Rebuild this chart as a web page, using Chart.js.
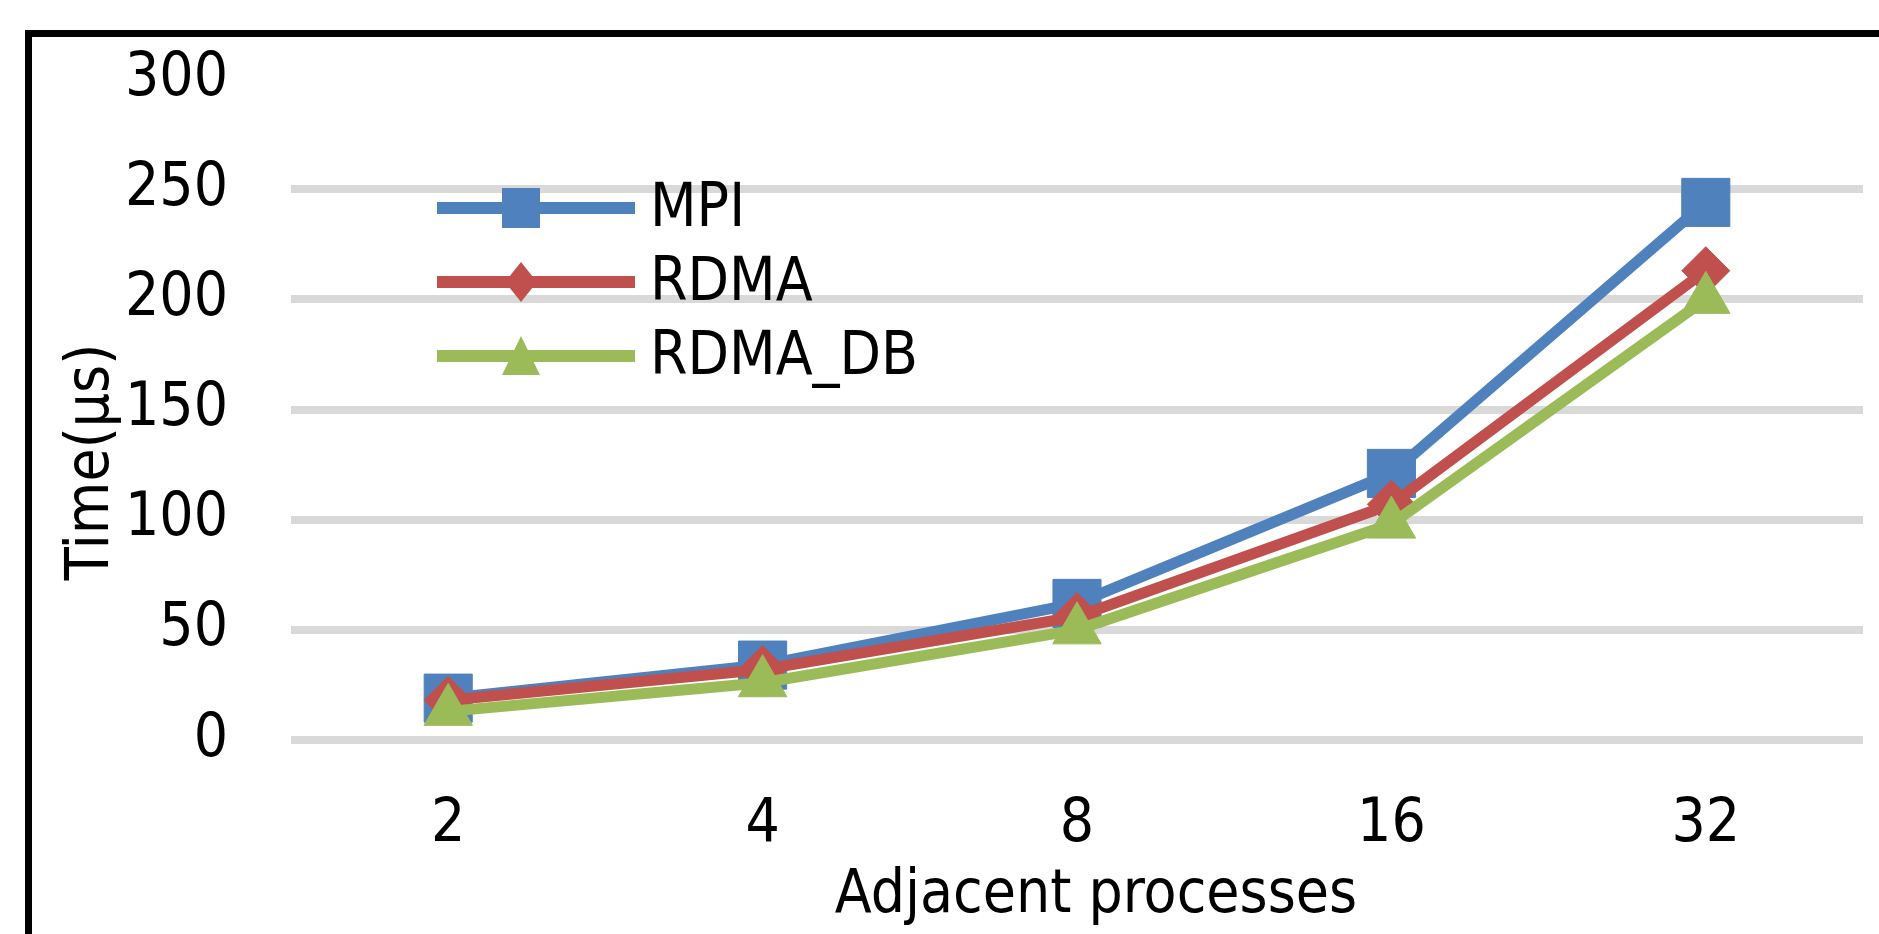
<!DOCTYPE html>
<html>
<head>
<meta charset="utf-8">
<title>Adjacent processes</title>
<script src="https://cdn.jsdelivr.net/npm/chart.js@4/dist/chart.umd.min.js"></script>
<style>
  html, body { margin: 0; padding: 0; background: #fff; }
  #wrap { position: relative; width: 1879px; height: 934px; overflow: hidden; }
  #frame {
    position: absolute; left: 25px; top: 30px; width: 1900px; height: 1000px;
    border-top: 7px solid #000; border-left: 7px solid #000; pointer-events: none;
  }
  #chart { position: absolute; left: 0; top: 0; }
</style>
</head>
<body>
<div id="wrap">
  <div id="frame"></div>
  <canvas id="chart" width="1879" height="934"></canvas>
</div>
<script>
// ------- data -------
const processes = ['2', '4', '8', '16', '32'];
const mpi      = [19, 34, 62, 121, 244];
const rdma     = [18, 32, 56, 107, 213];
const rdmaDb   = [13, 26, 50, 98, 200];
const yTicks   = [0, 50, 100, 150, 200, 250, 300];

const FONT = '"Liberation Sans Narrow", "DejaVu Sans Condensed", "Arial Narrow", sans-serif';
const BLUE = '#4F81BD', RED = '#C0504D', GREEN = '#9BBB59';

// legend drawn inside the plot, Excel style
const legendItems = [
  { label: 'MPI',      color: BLUE,  shape: 'rect',     y: 208 },
  { label: 'RDMA',     color: RED,   shape: 'rectRot',  y: 282 },
  { label: 'RDMA_DB',  color: GREEN, shape: 'triangle', y: 356 }
];

function marker(ctx, shape, x, y) {
  ctx.beginPath();
  if (shape === 'rect') {
    ctx.rect(x - 19, y - 20, 38, 40);
  } else if (shape === 'rectRot') {
    ctx.moveTo(x, y - 20); ctx.lineTo(x + 16, y); ctx.lineTo(x, y + 20); ctx.lineTo(x - 16, y);
    ctx.closePath();
  } else {
    ctx.moveTo(x, y - 20); ctx.lineTo(x + 19, y + 19); ctx.lineTo(x - 19, y + 19);
    ctx.closePath();
  }
  ctx.fill();
}

const excelLegend = {
  id: 'excelLegend',
  afterDraw(chart) {
    const ctx = chart.ctx;
    ctx.save();
    legendItems.forEach(it => {
      ctx.strokeStyle = it.color; ctx.fillStyle = it.color;
      ctx.lineWidth = 12; ctx.lineCap = 'butt';
      ctx.beginPath(); ctx.moveTo(437, it.y); ctx.lineTo(635, it.y); ctx.stroke();
      marker(ctx, it.shape, 521, it.y);
      ctx.fillStyle = '#000';
      ctx.font = '60px ' + FONT;
      ctx.textAlign = 'left'; ctx.textBaseline = 'alphabetic';
      ctx.fillText(it.label, 650, it.y + 18);
    });
    ctx.restore();
  }
};

// axis titles placed where the reference has them
const axisTitles = {
  id: 'axisTitles',
  afterDraw(chart) {
    const ctx = chart.ctx;
    ctx.save();
    ctx.fillStyle = '#000';
    ctx.font = '60px ' + FONT;
    ctx.textAlign = 'center'; ctx.textBaseline = 'alphabetic';
    ctx.fillText('Adjacent processes', 1096, 912);
    ctx.translate(108, 462);
    ctx.rotate(-Math.PI / 2);
    ctx.fillText('Time(\u03bcs)', 0, 0);
    ctx.restore();
  }
};

function series(label, data, color, style, radius, order) {
  return {
    label, data, order,
    borderColor: color, backgroundColor: color,
    borderWidth: 11, tension: 0,
    pointStyle: style, pointRadius: radius, pointHoverRadius: radius,
    pointBackgroundColor: color, pointBorderColor: color, pointBorderWidth: 1
  };
}

// keep the plot box where the reference has it, ignore label overflow padding
function noOverflow(scale) {
  scale.paddingTop = 0; scale.paddingBottom = 0;
  scale.paddingLeft = 0; scale.paddingRight = 0;
}

new Chart(document.getElementById('chart').getContext('2d'), {
  type: 'line',
  data: {
    labels: processes,
    datasets: [
      series('MPI', mpi, BLUE, 'rect', 34, 2),
      series('RDMA', rdma, RED, 'rectRot', 24, 1),
      series('RDMA_DB', rdmaDb, GREEN, 'triangle', 28, 0)
    ]
  },
  options: {
    responsive: false, animation: false,
    layout: { autoPadding: false, padding: { top: 79, right: 16, bottom: 0, left: 0 } },
    plugins: { legend: { display: false }, tooltip: { enabled: false } },
    scales: {
      x: {
        offset: true,
        grid: { display: false, drawTicks: false },
        border: { display: false },
        ticks: { color: '#000', padding: 55, font: { family: FONT, size: 60, lineHeight: 1 } },
        afterFit(scale) { scale.height = 194; noOverflow(scale); }
      },
      y: {
        min: 0, max: 300,
        afterBuildTicks(scale) { scale.ticks = yTicks.map(v => ({ value: v })); },
        grid: {
          drawTicks: false, lineWidth: 8,
          color: ctx => (ctx.tick && ctx.tick.value === 300) ? 'rgba(0,0,0,0)' : '#D9D9D9'
        },
        border: { display: false },
        ticks: { color: '#000', padding: 63, font: { family: FONT, size: 60, lineHeight: 1 } },
        afterFit(scale) { scale.width = 291; noOverflow(scale); }
      }
    }
  },
  plugins: [excelLegend, axisTitles]
});
</script>
</body>
</html>
